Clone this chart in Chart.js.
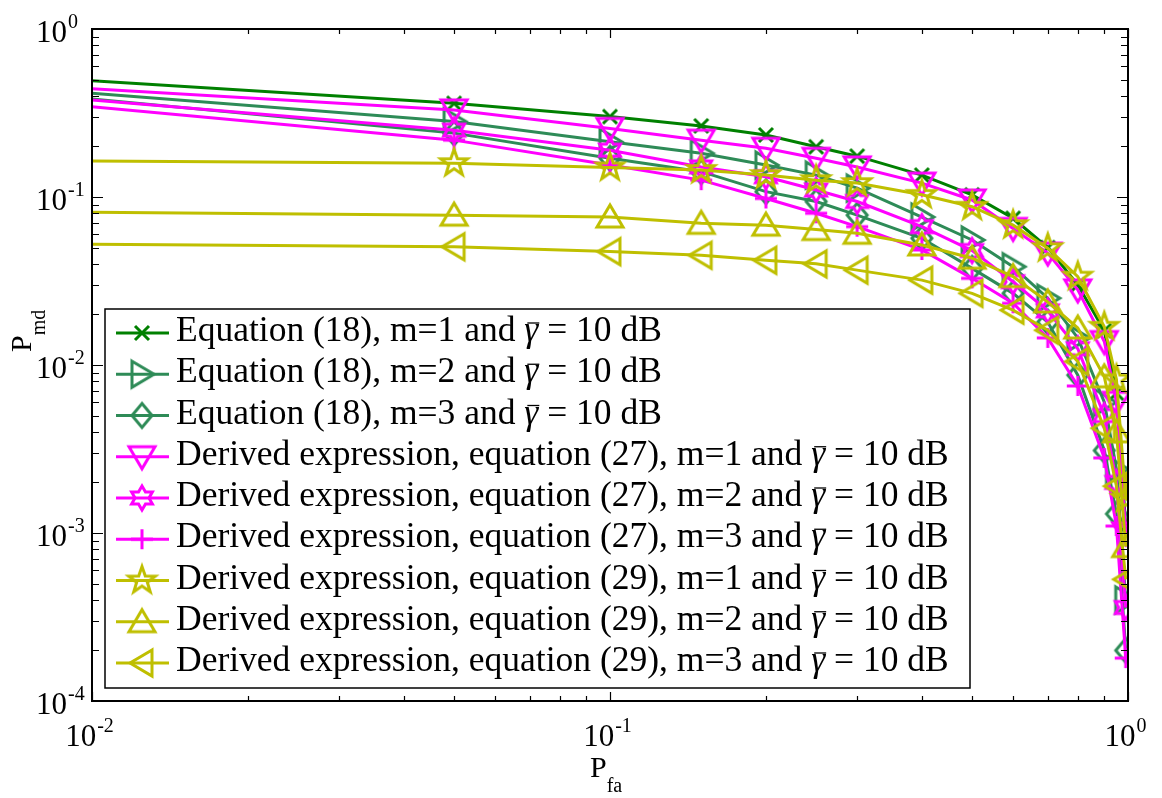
<!DOCTYPE html>
<html>
<head>
<meta charset="utf-8">
<script src="https://cdn.jsdelivr.net/npm/chart.js@4.4.0/dist/chart.umd.min.js"></script>
<style>
  html, body { margin: 0; padding: 0; background: #fff; }
  #wrap { width: 1162px; height: 798px; }
</style>
</head>
<body>
<div id="wrap"><canvas id="chart" width="1162" height="798"></canvas></div>
<script>
// P_fa values (x axis)
const pfa = [0.01, 0.05, 0.1, 0.15, 0.2, 0.25, 0.3, 0.4, 0.5, 0.6, 0.7, 0.8, 0.9, 0.95, 0.99];

// P_md values
const eq18M1 = [0.492, 0.361, 0.301, 0.265, 0.234, 0.199, 0.175, 0.135, 0.103, 0.0747, 0.050, 0.030, 0.0160, 0.0068, 0.0011];
const eq18M2 = [0.414, 0.281, 0.213, 0.182, 0.155, 0.135, 0.113, 0.076, 0.0555, 0.0385, 0.025, 0.0145, 0.0060, 0.0024, 0.0004];
const eq18M3 = [0.383, 0.240, 0.170, 0.1415, 0.1076, 0.094, 0.078, 0.0568, 0.0376, 0.0267, 0.018, 0.0087, 0.0031, 0.0013, 0.0002];
const eq27M1 = [0.441, 0.330, 0.256, 0.218, 0.195, 0.170, 0.151, 0.121, 0.096, 0.065, 0.0464, 0.028, 0.0138, 0.0060, 0.0010];
const eq27M2 = [0.378, 0.250, 0.190, 0.151, 0.132, 0.110, 0.094, 0.0666, 0.048, 0.0313, 0.021, 0.0125, 0.0050, 0.0020, 0.00036];
const eq27M3 = [0.345, 0.218, 0.155, 0.126, 0.098, 0.080, 0.0666, 0.0484, 0.0328, 0.0233, 0.0145, 0.0075, 0.0028, 0.0011, 0.00018];
const eq29M1 = [0.164, 0.159, 0.150, 0.145, 0.135, 0.126, 0.121, 0.103, 0.0875, 0.068, 0.0496, 0.0336, 0.0169, 0.0082, 0.0016];
const eq29M2 = [0.081, 0.078, 0.076, 0.0697, 0.068, 0.064, 0.0608, 0.0518, 0.0432, 0.0336, 0.0237, 0.0166, 0.0085, 0.0040, 0.00083];
const eq29M3 = [0.0523, 0.0506, 0.0473, 0.045, 0.042, 0.040, 0.0367, 0.032, 0.0267, 0.0212, 0.0161, 0.0105, 0.0042, 0.0019, 0.00053];

const legendText = [
  ['Equation (18), m=1 and ', ' = 10 dB'],
  ['Equation (18), m=2 and ', ' = 10 dB'],
  ['Equation (18), m=3 and ', ' = 10 dB'],
  ['Derived expression, equation (27), m=1 and ', ' = 10 dB'],
  ['Derived expression, equation (27), m=2 and ', ' = 10 dB'],
  ['Derived expression, equation (27), m=3 and ', ' = 10 dB'],
  ['Derived expression, equation (29), m=1 and ', ' = 10 dB'],
  ['Derived expression, equation (29), m=2 and ', ' = 10 dB'],
  ['Derived expression, equation (29), m=3 and ', ' = 10 dB']
];

const GREEN = '#008000', TEAL = '#2E8B57', MAGENTA = '#FF00FF', OLIVE = '#BFBF00';

// marker images, drawn like matlab's open markers
function marker(kind, color) {
  const S = 40, c = S / 2;
  const cv = document.createElement('canvas');
  cv.width = S; cv.height = S;
  const g = cv.getContext('2d');
  g.strokeStyle = color;
  g.lineWidth = 3;
  g.lineJoin = 'miter';
  g.beginPath();
  const poly = pts => { pts.forEach((p, i) => i ? g.lineTo(c + p[0], c + p[1]) : g.moveTo(c + p[0], c + p[1])); g.closePath(); };
  const star = (n, ro, ri) => {
    const pts = [];
    for (let i = 0; i < 2 * n; i++) {
      const a = -Math.PI / 2 + i * Math.PI / n;
      const r = i % 2 ? ri : ro;
      pts.push([r * Math.cos(a), r * Math.sin(a)]);
    }
    poly(pts);
  };
  if (kind === 'x') {
    g.moveTo(c - 7, c - 7); g.lineTo(c + 7, c + 7);
    g.moveTo(c - 7, c + 7); g.lineTo(c + 7, c - 7);
  } else if (kind === '+') {
    g.moveTo(c - 11, c); g.lineTo(c + 11, c);
    g.moveTo(c, c - 10); g.lineTo(c, c + 10);
  } else if (kind === 'v') poly([[-13, -10], [13, -10], [0, 12]]);
  else if (kind === '^') poly([[-13, 10], [13, 10], [0, -12]]);
  else if (kind === '>') poly([[-10, -13], [12, 0], [-10, 13]]);
  else if (kind === '<') poly([[10, -13], [-12, 0], [10, 13]]);
  else if (kind === 'd') poly([[0, -12], [10, 0], [0, 12], [-10, 0]]);
  else if (kind === 'h') star(6, 12, 7);
  else if (kind === 'p') star(5, 14, 5.6);
  g.stroke();
  return cv;
}

const series = [
  { data: eq18M1, color: GREEN, m: 'x' },
  { data: eq18M2, color: TEAL, m: '>' },
  { data: eq18M3, color: TEAL, m: 'd' },
  { data: eq27M1, color: MAGENTA, m: 'v' },
  { data: eq27M2, color: MAGENTA, m: 'h' },
  { data: eq27M3, color: MAGENTA, m: '+' },
  { data: eq29M1, color: OLIVE, m: 'p' },
  { data: eq29M2, color: OLIVE, m: '^' },
  { data: eq29M3, color: OLIVE, m: '<' }
];
series.forEach(s => { s.img = marker(s.m, s.color); });

const datasets = series.map((s, i) => ({
  label: legendText[i].join('\u03B3\u0304'),
  data: pfa.map((x, j) => ({ x: x, y: s.data[j] })),
  borderColor: s.color,
  backgroundColor: s.color,
  borderWidth: 3,
  fill: false,
  tension: 0,
  pointStyle: s.img,
  pointRadius: ctx => ctx.dataIndex === 0 ? 0 : 12,
  order: series.length - i
}));

const SERIF = '"Liberation Serif", "Times New Roman", serif';

function drawPow(ctx, exp, x, y, align) {
  // "10" with a superscript exponent; x,y = anchor of the "10" centre
  ctx.font = '31px ' + SERIF;
  const wb = ctx.measureText('10').width;
  ctx.font = '20px ' + SERIF;
  const we = ctx.measureText(exp).width;
  let x0;
  if (align === 'right') x0 = x - wb;
  else x0 = x - (wb + we) / 2;
  ctx.textBaseline = 'alphabetic';
  ctx.textAlign = 'left';
  ctx.font = '31px ' + SERIF;
  ctx.fillText('10', x0, y + 11);
  ctx.font = '20px ' + SERIF;
  ctx.fillText(exp, x0 + wb + 1, y - 3);
}

const axesPlugin = {
  id: 'matlabAxes',
  afterDraw(chart) {
    const { ctx, chartArea: a, scales } = chart;
    const xs = scales.x, ys = scales.y;
    ctx.save();
    ctx.strokeStyle = '#000';
    ctx.fillStyle = '#000';
    ctx.lineWidth = 2;
    ctx.strokeRect(a.left, a.top, a.right - a.left, a.bottom - a.top);
    ctx.lineWidth = 1.2;
    ctx.beginPath();
    for (let d = -2; d <= 0; d++) {
      for (let k = 1; k <= 9; k++) {
        const v = k * Math.pow(10, d);
        if (v > 1.0001) break;
        const px = Math.round(xs.getPixelForValue(v)) + 0.5;
        const len = k === 1 ? 9 : 5;
        ctx.moveTo(px, a.bottom); ctx.lineTo(px, a.bottom - len);
        ctx.moveTo(px, a.top); ctx.lineTo(px, a.top + len);
      }
    }
    for (let d = -4; d <= 0; d++) {
      for (let k = 1; k <= 9; k++) {
        const v = k * Math.pow(10, d);
        if (v > 1.0001) break;
        const py = Math.round(ys.getPixelForValue(v)) + 0.5;
        const len = k === 1 ? 11 : 7;
        ctx.moveTo(a.left, py); ctx.lineTo(a.left + len, py);
        ctx.moveTo(a.right, py); ctx.lineTo(a.right - len, py);
      }
    }
    ctx.stroke();

    // tick labels
    [-2, -1, 0].forEach(d => {
      drawPow(ctx, String(d), xs.getPixelForValue(Math.pow(10, d)) - 3, 735, 'center');
    });
    [-4, -3, -2, -1, 0].forEach(d => {
      drawPow(ctx, String(d), 67, ys.getPixelForValue(Math.pow(10, d)) + 2, 'right');
    });

    // axis titles
    ctx.font = '30px ' + SERIF;
    ctx.textAlign = 'left';
    ctx.textBaseline = 'alphabetic';
    const wP = ctx.measureText('P').width;
    ctx.fillText('P', 590, 777);
    ctx.font = '20px ' + SERIF;
    ctx.fillText('fa', 590 + wP, 792);

    ctx.translate(31, 352);
    ctx.rotate(-Math.PI / 2);
    ctx.font = '30px ' + SERIF;
    ctx.fillText('P', 0, 0);
    ctx.font = '20px ' + SERIF;
    ctx.fillText('md', wP, 14);
    ctx.restore();

    // legend box
    ctx.save();
    const L = 105, T = 309, R = 970, B = 688;
    ctx.fillStyle = '#fff';
    ctx.fillRect(L, T, R - L, B - T);
    ctx.strokeStyle = '#000';
    ctx.lineWidth = 1.5;
    ctx.strokeRect(L, T, R - L, B - T);
    // fit the font to the legend width
    ctx.font = '100px ' + SERIF;
    const longest = legendText[3];
    const wRef = ctx.measureText(longest[0] + '\u03B3' + longest[1]).width;
    const fs = Math.floor(100 * 776 / wRef * 10) / 10;
    const rowH = 41.25;
    series.forEach((s, i) => {
      const y = 333 + i * rowH;
      ctx.strokeStyle = s.color;
      ctx.lineWidth = 3;
      ctx.beginPath();
      ctx.moveTo(116, y); ctx.lineTo(169, y);
      ctx.stroke();
      ctx.drawImage(s.img, 142 - s.img.width / 2, y - s.img.height / 2);
      ctx.fillStyle = '#000';
      ctx.textBaseline = 'alphabetic';
      ctx.textAlign = 'left';
      ctx.font = fs + 'px ' + SERIF;
      let x = 176;
      ctx.fillText(legendText[i][0], x, y + 8);
      x += ctx.measureText(legendText[i][0]).width;
      ctx.font = 'italic ' + fs + 'px ' + SERIF;
      const wg = ctx.measureText('\u03B3').width;
      ctx.fillText('\u03B3', x, y + 8);
      ctx.lineWidth = 1.3;
      ctx.strokeStyle = '#000';
      ctx.beginPath();
      ctx.moveTo(x + 3, y - 10); ctx.lineTo(x + wg + 1, y - 10);
      ctx.stroke();
      x += wg;
      ctx.font = fs + 'px ' + SERIF;
      ctx.fillText(legendText[i][1], x, y + 8);
    });
    ctx.restore();
  }
};

new Chart(document.getElementById('chart').getContext('2d'), {
  type: 'line',
  data: { datasets: datasets },
  options: {
    responsive: false,
    animation: false,
    devicePixelRatio: 1,
    layout: { padding: { top: 29, right: 34, left: 0, bottom: 0 } },
    plugins: {
      legend: { display: false },
      tooltip: { enabled: false }
    },
    scales: {
      x: {
        type: 'logarithmic', min: 0.01, max: 1,
        ticks: { display: false }, grid: { display: false }, border: { display: false },
        afterFit: s => { s.height = 97; }
      },
      y: {
        type: 'logarithmic', min: 1e-4, max: 1,
        ticks: { display: false }, grid: { display: false }, border: { display: false },
        afterFit: s => { s.width = 92; }
      }
    }
  },
  plugins: [axesPlugin]
});
</script>
</body>
</html>
